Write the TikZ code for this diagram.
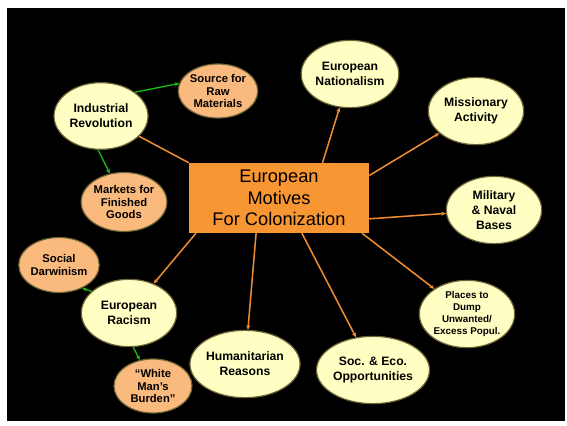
\documentclass[tikz,border=0pt]{standalone}
\usepackage{fontspec}
\setmainfont{Liberation Sans}
\usetikzlibrary{shapes.geometric,arrows.meta}

\definecolor{boxorange}{RGB}{247,150,50}
\definecolor{linkorange}{RGB}{238,140,50}
\definecolor{paleyellow}{RGB}{255,255,195}
\definecolor{peach}{RGB}{250,185,125}
\definecolor{glow}{RGB}{110,100,55}
\definecolor{linkgreen}{RGB}{20,190,20}

\begin{document}
\begin{tikzpicture}[>={Stealth[length=4pt,width=3.5pt]}, x=0.03cm, y=-0.03cm,
  motive/.style={ellipse, draw=glow, line width=1pt, fill=paleyellow,
    inner sep=0pt, minimum width=2.86cm, minimum height=2.02cm, align=center,
    font=\bfseries\fontsize{10.4}{12.7}\selectfont},
  factor/.style={motive, fill=peach, minimum width=2.34cm,
    minimum height=1.62cm, font=\bfseries\fontsize{9.6}{11}\selectfont},
  toplink/.style={draw=linkorange, line width=1.3pt},
  sublink/.style={->, draw=linkgreen, line width=1.1pt}]

  \useasboundingbox[fill=white] (0,0) rectangle (567,425);
  \fill[black] (7,8) rectangle (565,421);

  \node (box) [rectangle, fill=boxorange, minimum width=5.4cm,
    minimum height=2.1cm, align=center,
    font=\fontsize{15.6}{18.3}\selectfont] at (279,198)
    {European\\Motives\\For Colonization};

  \node (industry) [motive, minimum width=2.82cm, minimum height=2cm]
    at (101,116) {Industrial\\Revolution};
  \node (source) [factor] at (218,91) {Source for\\Raw\\Materials};
  \node (markets) [factor, minimum width=2.31cm, minimum height=1.77cm]
    at (124,202) {Markets for\\Finished\\Goods};
  \node (nationalism) [motive] at (350,74) {European\\Nationalism};
  \node (missionary) [motive] at (476,111) {Missionary\\Activity};
  \node (military) [motive] at (494,210) {Military\\\& Naval\\Bases};
  \node (dump) [motive, font=\bfseries\fontsize{8.4}{10.4}\selectfont]
    at (467,314) {Places to\\Dump\\Unwanted/\\Excess Popul.};
  \node (soceco) [motive] at (373,370) {Soc. \& Eco.\\Opportunities};
  \node (humanitarian) [motive] at (245,364) {Humanitarian\\Reasons};
  \node (racism) [motive] at (129,313) {European\\Racism};
  \node (darwinism) [factor, minimum width=2.28cm, minimum height=1.65cm]
    at (59,265) {Social\\Darwinism};
  \node (burden) [factor] at (153,386) {“White\\Man’s\\Burden”};

  \draw[toplink] (box.north west) -- (industry);
  \draw[toplink, ->] (box.39) -- (nationalism);
  \draw[toplink, ->] (box.14) -- (missionary);
  \draw[toplink, ->] (box.-13) -- (military);
  \draw[toplink, ->] (box.-23) -- (dump);
  \draw[toplink, ->] (box.-57) -- (soceco);
  \draw[toplink, ->] (box.-123) -- (humanitarian);
  \draw[toplink, ->] (box.-157) -- (racism);

  \draw[sublink] (industry.35) -- (source.169);
  \draw[sublink] (industry.-95) -- (markets);
  \draw[sublink] (racism.150) -- (darwinism.-45);
  \draw[sublink] (racism.-83) -- (burden);

\end{tikzpicture}
\end{document}
